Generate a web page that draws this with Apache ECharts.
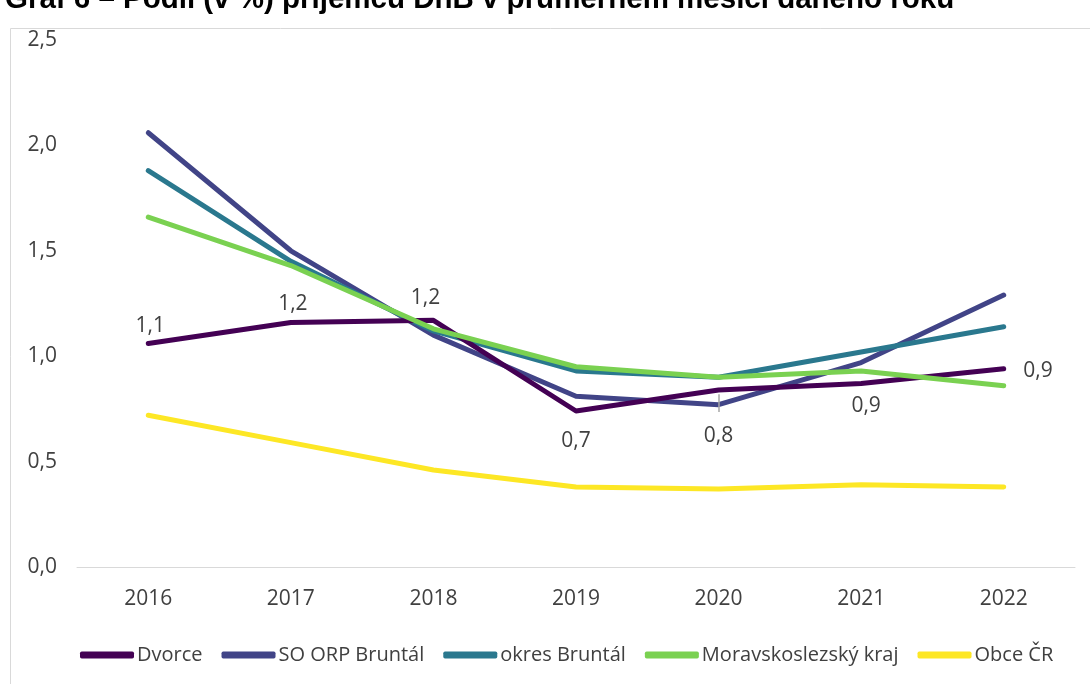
<!DOCTYPE html>
<html><head><meta charset="utf-8">
<script src="https://cdn.jsdelivr.net/npm/echarts@6/dist/echarts.min.js"></script>
<style>html,body{margin:0;padding:0;background:#fff}#c{width:1090px;height:684px}</style>
</head><body><div id="c"></div>
<script>
const years = ['2016','2017','2018','2019','2020','2021','2022'];
const dvorce = [1.06, 1.16, 1.17, 0.74, 0.84, 0.87, 0.94];
const soOrp = [2.06, 1.50, 1.10, 0.81, 0.77, 0.97, 1.29];
const okres = [1.88, 1.45, 1.12, 0.93, 0.90, 1.02, 1.14];
const msk = [1.66, 1.43, 1.13, 0.95, 0.90, 0.93, 0.86];
const obce = [0.72, 0.59, 0.46, 0.38, 0.37, 0.39, 0.38];
const seriesNames = ['Dvorce','SO ORP Bruntál','okres Bruntál','Moravskoslezský kraj','Obce ČR'];
const colors = ['#440154','#414487','#2A788E','#7AD151','#FDE725'];
const titleText = 'Graf 6 – Podíl (v %) příjemců DnB v průměrném měsíci daného roku';

const fmt = v => v.toFixed(1).replace('.', ',');
const labelPos = [
  {position:'top', offset:[2,-2]},
  {position:'top', offset:[2,-2]},
  {position:'top', offset:[-8,-6]},
  {position:'bottom', offset:[0,14]},
  {position:'bottom', offset:[0,30]},
  {position:'bottom', offset:[5,6]},
  {position:'right', offset:[14,2]}
];
const font = 'Open Sans';
const dvData = dvorce.map((v,i)=>({value:v, label:Object.assign({show:true}, labelPos[i])}));
const allData = [dvData, soOrp, okres, msk, obce];
// leader line for the 2020 label (from just under the line down toward the label)
const leader = [[{coord:[years[4], dvorce[4]-0.02]}, {coord:[years[4], dvorce[4]-0.105]}]];

const chart = echarts.init(document.getElementById('c'));
chart.setOption({
  animation:false,
  title:{text:titleText, left:0, top:-20, textStyle:{fontFamily:'Liberation Sans', fontWeight:'bold', fontSize:29.5, color:'#000'}},
  graphic:[{type:'rect', shape:{x:10.5,y:28.5,width:1100,height:700}, style:{fill:'none', stroke:'#d9d9d9', lineWidth:1}, z:-1}],
  grid:{left:77, right:15, top:40, bottom:117},
  legend:{top:640, left:75, itemWidth:54, itemHeight:7, itemGap:19, icon:'roundRect',
    textStyle:{fontFamily:font, fontSize:20, color:'#404040', padding:[0,0,0,-2]},
    data:seriesNames},
  xAxis:{type:'category', data:years, boundaryGap:true,
    axisLine:{lineStyle:{color:'#d9d9d9'}}, axisTick:{show:false},
    axisLabel:{fontFamily:font, fontSize:21, color:'#404040', margin:22}},
  yAxis:{type:'value', min:0, max:2.5, interval:0.5,
    splitLine:{show:false}, axisLine:{show:false}, axisTick:{show:false},
    axisLabel:{fontFamily:font, fontSize:21, color:'#404040', margin:20, formatter:fmt}},
  series: seriesNames.map((n,i)=>({
    name:n, type:'line', data:allData[i],
    symbol: i===0 ? 'circle' : 'none', symbolSize:1, showSymbol: i===0,
    lineStyle:{color:colors[i], width:5, cap:'round', join:'round'},
    itemStyle:{color:colors[i]},
    z: i===0 ? 3 : (i===3 ? 4 : 2),
    label:{show:false, fontFamily:font, fontSize:21, color:'#404040', formatter:p=>fmt(p.value)},
    markLine: i===0 ? {silent:true, symbol:'none', label:{show:false},
      lineStyle:{color:'#a6a6a6', width:1.5, type:'solid'}, data:leader} : undefined
  }))
});
</script></body></html>
